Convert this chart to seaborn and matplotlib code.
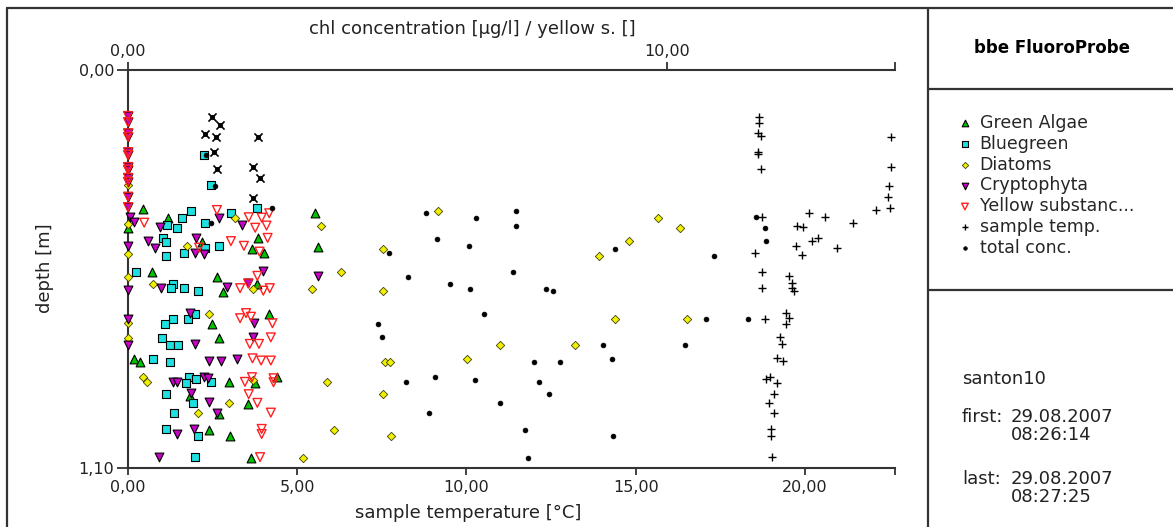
import pandas as pd
import matplotlib
matplotlib.use('Agg')
import matplotlib.pyplot as plt
import seaborn as sns
from matplotlib.lines import Line2D

# depth [m] and chl concentration [ug/l]
green_depth = [0.385, 0.438, 0.410, 0.465, 0.495, 0.507, 0.475, 0.396, 0.488, 0.557,
               0.571, 0.613, 0.591, 0.702, 0.675, 0.742, 0.800, 0.806, 0.863, 0.864,
               0.849, 0.900, 0.923, 0.951, 0.995, 1.011, 1.072]
green_chl = [0.27, 0.00, 0.75, 2.42, 2.30, 2.53, 1.37, 3.47, 3.53, 0.44,
             1.65, 1.77, 2.40, 1.55, 2.62, 1.69, 0.12, 0.22, 1.88, 2.36,
             2.76, 1.15, 2.22, 1.68, 1.51, 1.89, 2.28]

blue_depth = [0.389, 0.410, 0.396, 0.382, 0.428, 0.436, 0.422, 0.465, 0.475, 0.491,
              0.486, 0.507, 0.513, 0.235, 0.318, 0.557, 0.591, 0.603, 0.603, 0.611,
              0.675, 0.689, 0.689, 0.702, 0.740, 0.760, 0.760, 0.800, 0.806, 0.849,
              0.864, 0.855, 0.862, 0.896, 0.920, 0.947, 0.993, 1.011, 1.070]
blue_chl = [1.16, 1.00, 1.91, 2.39, 0.72, 0.91, 1.42, 0.65, 0.70, 1.43,
            1.68, 1.03, 0.70, 1.41, 1.54, 0.15, 0.83, 0.80, 1.03, 1.30,
            1.24, 0.83, 1.12, 0.69, 0.63, 0.78, 0.92, 0.46, 0.78, 1.14,
            1.08, 1.27, 1.54, 0.70, 1.20, 0.86, 0.70, 1.29, 1.24]

diatom_depth = [0.426, 0.509, 0.571, 0.700, 0.740, 0.318,
                0.410, 0.486, 0.592, 0.605, 0.675, 0.849, 0.863, 0.857, 0.920, 0.947,
                0.390, 0.430, 0.494, 0.557, 0.604, 0.611,
                0.410, 0.438, 0.473, 0.514,
                0.689, 0.689, 0.759, 0.759, 0.800, 0.806, 0.806, 0.863, 0.896, 0.995,
                1.012, 1.072]
diatom_chl = [0.00, 0.00, 0.00, 0.00, 0.00, 0.00,
              1.99, 1.09, 0.46, 2.32, 1.51, 0.28, 0.35, 2.32, 1.88, 1.29,
              5.76, 3.58, 4.74, 3.95, 3.41, 4.74,
              9.83, 10.25, 9.29, 8.73,
              9.04, 10.37, 6.91, 8.30, 6.29, 4.77, 4.86, 3.69, 4.74, 3.83,
              4.88, 3.24]

crypto_depth = [0.127, 0.144, 0.175, 0.185, 0.227, 0.235, 0.268, 0.276, 0.298, 0.309,
                0.350, 0.379, 0.486, 0.608, 0.689, 0.760,
                0.405, 0.421, 0.433, 0.473, 0.491, 0.464, 0.505, 0.509, 0.428, 0.408,
                0.556, 0.603, 0.601, 0.590, 0.569, 0.672, 0.700, 0.757, 0.737, 0.803,
                0.803, 0.799, 0.862, 0.862, 0.848, 0.852, 0.894, 0.918, 0.947, 1.007,
                0.992, 1.070]
crypto_chl = [0.00, 0.00, 0.00, 0.00, 0.00, 0.00, 0.00, 0.00, 0.00, 0.00,
              0.00, 0.00, 0.00, 0.00, 0.00, 0.00,
              0.04, 0.12, 0.59, 0.38, 0.50, 1.27, 1.24, 1.41, 2.12, 1.69,
              2.51, 0.61, 1.83, 2.23, 3.53, 1.15, 2.34, 1.24, 2.32, 1.51,
              1.72, 2.02, 0.84, 0.90, 1.41, 1.49, 1.16, 1.51, 1.66, 0.90,
              1.22, 0.58]

yellow_depth = [0.127, 0.144, 0.175, 0.185, 0.227, 0.235, 0.268, 0.276, 0.298, 0.309,
                0.350, 0.379,
                0.387, 0.422, 0.407, 0.408, 0.396, 0.436, 0.430, 0.473, 0.486, 0.491,
                0.464, 0.502, 0.569, 0.603, 0.590, 0.610, 0.603, 0.686, 0.672, 0.682,
                0.700, 0.757, 0.757, 0.739, 0.797, 0.803, 0.803, 0.862, 0.849, 0.852,
                0.863, 0.896, 0.920, 0.947, 0.992, 1.006, 1.070]
yellow_val = [0.00, 0.00, 0.00, 0.00, 0.00, 0.00, 0.00, 0.00, 0.00, 0.00,
              0.00, 0.00,
              1.65, 0.30, 2.24, 2.48, 2.62, 2.36, 2.57, 1.91, 2.15, 1.32,
              2.59, 2.44, 2.40, 2.08, 2.23, 2.51, 2.63, 2.08, 2.19, 2.28,
              2.68, 2.26, 2.43, 2.65, 2.31, 2.47, 2.65, 2.17, 2.30, 2.70,
              2.70, 2.24, 2.40, 2.65, 2.48, 2.48, 2.45]

total_depth = [0.396, 0.410, 0.390, 0.430, 0.467, 0.486, 0.507, 0.494, 0.514, 0.571,
               0.557, 0.591, 0.604, 0.604, 0.611, 0.675, 0.702, 0.688, 0.688, 0.739,
               0.759, 0.759, 0.800, 0.806, 0.806, 0.863, 0.849, 0.857, 0.863, 0.896,
               0.920, 0.947, 0.994, 1.012, 1.072, 0.407, 0.436, 0.473, 0.382, 0.424,
               0.320, 0.235]
total_chl = [5.53, 6.46, 7.20, 7.20, 5.73, 6.32, 4.85, 9.04, 10.88, 5.19,
             7.14, 5.98, 6.35, 7.76, 7.88, 6.60, 4.63, 10.73, 11.51, 4.71,
             8.81, 10.34, 8.98, 7.54, 8.02, 5.16, 5.70, 6.43, 7.62, 7.82,
             6.91, 5.58, 7.37, 9.00, 7.43, 11.66, 11.81, 11.84, 2.67, 1.54,
             1.61, 1.45]

# near-surface total readings, drawn with a crossed marker
surface_depth = [0.129, 0.152, 0.177, 0.184, 0.227, 0.184, 0.274, 0.267, 0.298, 0.353]
surface_chl = [1.56, 1.71, 1.43, 1.63, 1.60, 2.42, 1.65, 2.32, 2.45, 2.32]

temp_depth = [0.131, 0.147, 0.175, 0.182, 0.226, 0.233, 0.274, 0.184, 0.269, 0.320,
              0.352, 0.381, 0.387, 0.407, 0.394, 0.407, 0.422, 0.431, 0.435, 0.473,
              0.465, 0.493, 0.486, 0.511, 0.507, 0.557, 0.603, 0.569, 0.588, 0.603,
              0.611, 0.689, 0.672, 0.686, 0.702, 0.737, 0.758, 0.797, 0.803, 0.855,
              0.848, 0.864, 0.896, 0.920, 0.947, 0.993, 1.012, 1.070]
temp_val = [18.64, 18.64, 18.61, 18.70, 18.61, 18.61, 18.70, 22.54, 22.54, 22.48,
            22.45, 22.51, 22.09, 18.73, 20.12, 20.59, 21.42, 19.76, 19.94, 20.21,
            20.38, 20.94, 19.73, 19.91, 18.53, 18.73, 18.73, 19.53, 19.62, 19.62,
            19.68, 18.82, 19.44, 19.53, 19.44, 19.26, 19.32, 19.17, 19.35, 18.85,
            18.97, 19.17, 19.09, 18.94, 19.09, 19.00, 19.00, 19.03]

temp_ticks = [0, 5, 10, 15, 20, 22.66]
temp_labels = ['0,00', '5,00', '10,00', '15,00', '20,00', '']
chl_ticks = [0, 10, 14.23]
chl_labels = ['0,00', '10,00', '']
depth_ticks = [0, 1.10]
depth_labels = ['0,00', '1,10']

W, H = 1173, 527
EDGE = '#333333'

sns.set_theme(style='white')
plt.rcParams['font.family'] = ['DejaVu Sans']

fig = plt.figure(figsize=(W / 100, H / 100), dpi=100)
ax = fig.add_axes([128 / W, 1 - 468 / H, (895 - 128) / W, (468 - 70) / H])
ax2 = ax.twiny()


def frame(x0, y0, x1, y1):
    fig.add_artist(Line2D([x0 / W, x1 / W], [1 - y0 / H, 1 - y1 / H],
                          color=EDGE, lw=1.6))


def series(depth, values):
    return pd.DataFrame({'depth': depth, 'value': values})


common = dict(x='value', y='depth', clip_on=False)

sns.scatterplot(data=series(green_depth, green_chl), ax=ax2, marker='^', s=40,
                color='#00c400', edgecolor='black', linewidth=0.8,
                label='Green Algae', zorder=3, **common)
sns.scatterplot(data=series(blue_depth, blue_chl), ax=ax2, marker='s', s=33,
                color='#1ee0e0', edgecolor='black', linewidth=0.8,
                label='Bluegreen', zorder=3, **common)
sns.scatterplot(data=series(diatom_depth, diatom_chl), ax=ax2, marker='D', s=18,
                color='#f0f000', edgecolor='#444400', linewidth=0.6,
                label='Diatoms', zorder=3, **common)
sns.scatterplot(data=series(crypto_depth, crypto_chl), ax=ax2, marker='v', s=40,
                color='#c800c8', edgecolor='black', linewidth=0.8,
                label='Cryptophyta', zorder=3, **common)
sns.scatterplot(data=series(yellow_depth, yellow_val), ax=ax2, marker='v', s=40,
                facecolors='none', edgecolor='#ff2020', linewidth=1.0,
                label='Yellow substanc...', zorder=4, **common)
sns.scatterplot(data=series(total_depth, total_chl), ax=ax2, marker='o', s=12,
                color='black', edgecolor='black', linewidth=0.5,
                label='total conc.', zorder=5, **common)
sns.scatterplot(data=series(surface_depth, surface_chl), ax=ax2, marker='x', s=34,
                color='black', linewidth=1.2, legend=False, zorder=5, **common)
sns.scatterplot(data=series(surface_depth, surface_chl), ax=ax2, marker='o', s=12,
                color='black', edgecolor='black', legend=False, zorder=5, **common)
sns.scatterplot(data=series(temp_depth, temp_val), ax=ax, marker='+', s=28,
                color='black', linewidth=1.0, label='sample temp.', zorder=3,
                **common)

ax.set_xlim(0, temp_ticks[-1])
ax2.set_xlim(0, chl_ticks[-1])
ax.set_ylim(1.10, 0)

ax.set_xticks(temp_ticks, temp_labels)
ax.set_yticks(depth_ticks, depth_labels)
ax2.set_xticks(chl_ticks, chl_labels)
ax.set_xlabel('')
ax.set_ylabel('')
ax2.set_xlabel('')
ax2.set_ylabel('')

for a in (ax, ax2):
    for side in a.spines:
        a.spines[side].set_visible(False)
    a.grid(False)
ax.spines['left'].set_visible(True)
ax.spines['bottom'].set_visible(True)
ax2.spines['top'].set_visible(True)
for sp in (ax.spines['left'], ax.spines['bottom'], ax2.spines['top']):
    sp.set_color(EDGE)
    sp.set_linewidth(1.5)

ax.tick_params(axis='x', bottom=True, top=False, direction='out', length=5,
               width=1.3, color=EDGE, labelsize=11.5, pad=4, labelcolor='#222')
ax.tick_params(axis='y', left=True, right=False, direction='out', length=8,
               width=1.3, color=EDGE, labelsize=11.5, pad=2, labelcolor='#222')
ax2.tick_params(axis='x', top=True, bottom=False, direction='out', length=6,
                width=1.3, color=EDGE, labelsize=11.5, pad=2, labelcolor='#222')

# axis titles
fig.text(472 / W, 1 - 29 / H, 'chl concentration [µg/l] / yellow s. []',
         ha='center', va='center', fontsize=13, color='#222')
fig.text(468 / W, 1 - 513 / H, 'sample temperature [°C]',
         ha='center', va='center', fontsize=13, color='#222')
fig.text(45 / W, 1 - 268 / H, 'depth [m]', rotation=90,
         ha='center', va='center', fontsize=13, color='#222')

# legend in the side panel
h2, l2 = ax2.get_legend_handles_labels()
h1, l1 = ax.get_legend_handles_labels()
for a in (ax, ax2):
    if a.get_legend() is not None:
        a.get_legend().remove()
handles = h2[:5] + h1 + h2[5:]
labels = l2[:5] + l1 + l2[5:]
fig.legend(handles, labels, loc='upper left', bbox_to_anchor=(958 / W, 1 - 114 / H),
           frameon=False, fontsize=12.5, handlelength=0.8, handletextpad=0.45,
           labelspacing=0.16, borderpad=0, borderaxespad=0, markerscale=0.75)

# side panel frame and texts
frame(7, 8, W, 8)
frame(7, 8, 7, H)
frame(928, 8, 928, H)
frame(928, 89, W, 89)
frame(928, 290, W, 290)

fig.text(1052 / W, 1 - 48 / H, 'bbe FluoroProbe', ha='center', va='center',
         fontsize=12, fontweight='bold', color='black')
info = dict(ha='left', va='center', fontsize=13, color='#222')
fig.text(962 / W, 1 - 379 / H, 'santon10', **info)
fig.text(962 / W, 1 - 417 / H, 'first:', **info)
fig.text(1011 / W, 1 - 417 / H, '29.08.2007', **info)
fig.text(1011 / W, 1 - 435 / H, '08:26:14', **info)
fig.text(962 / W, 1 - 479 / H, 'last:', **info)
fig.text(1011 / W, 1 - 479 / H, '29.08.2007', **info)
fig.text(1011 / W, 1 - 497 / H, '08:27:25', **info)

fig.savefig('out.png', dpi=100)
